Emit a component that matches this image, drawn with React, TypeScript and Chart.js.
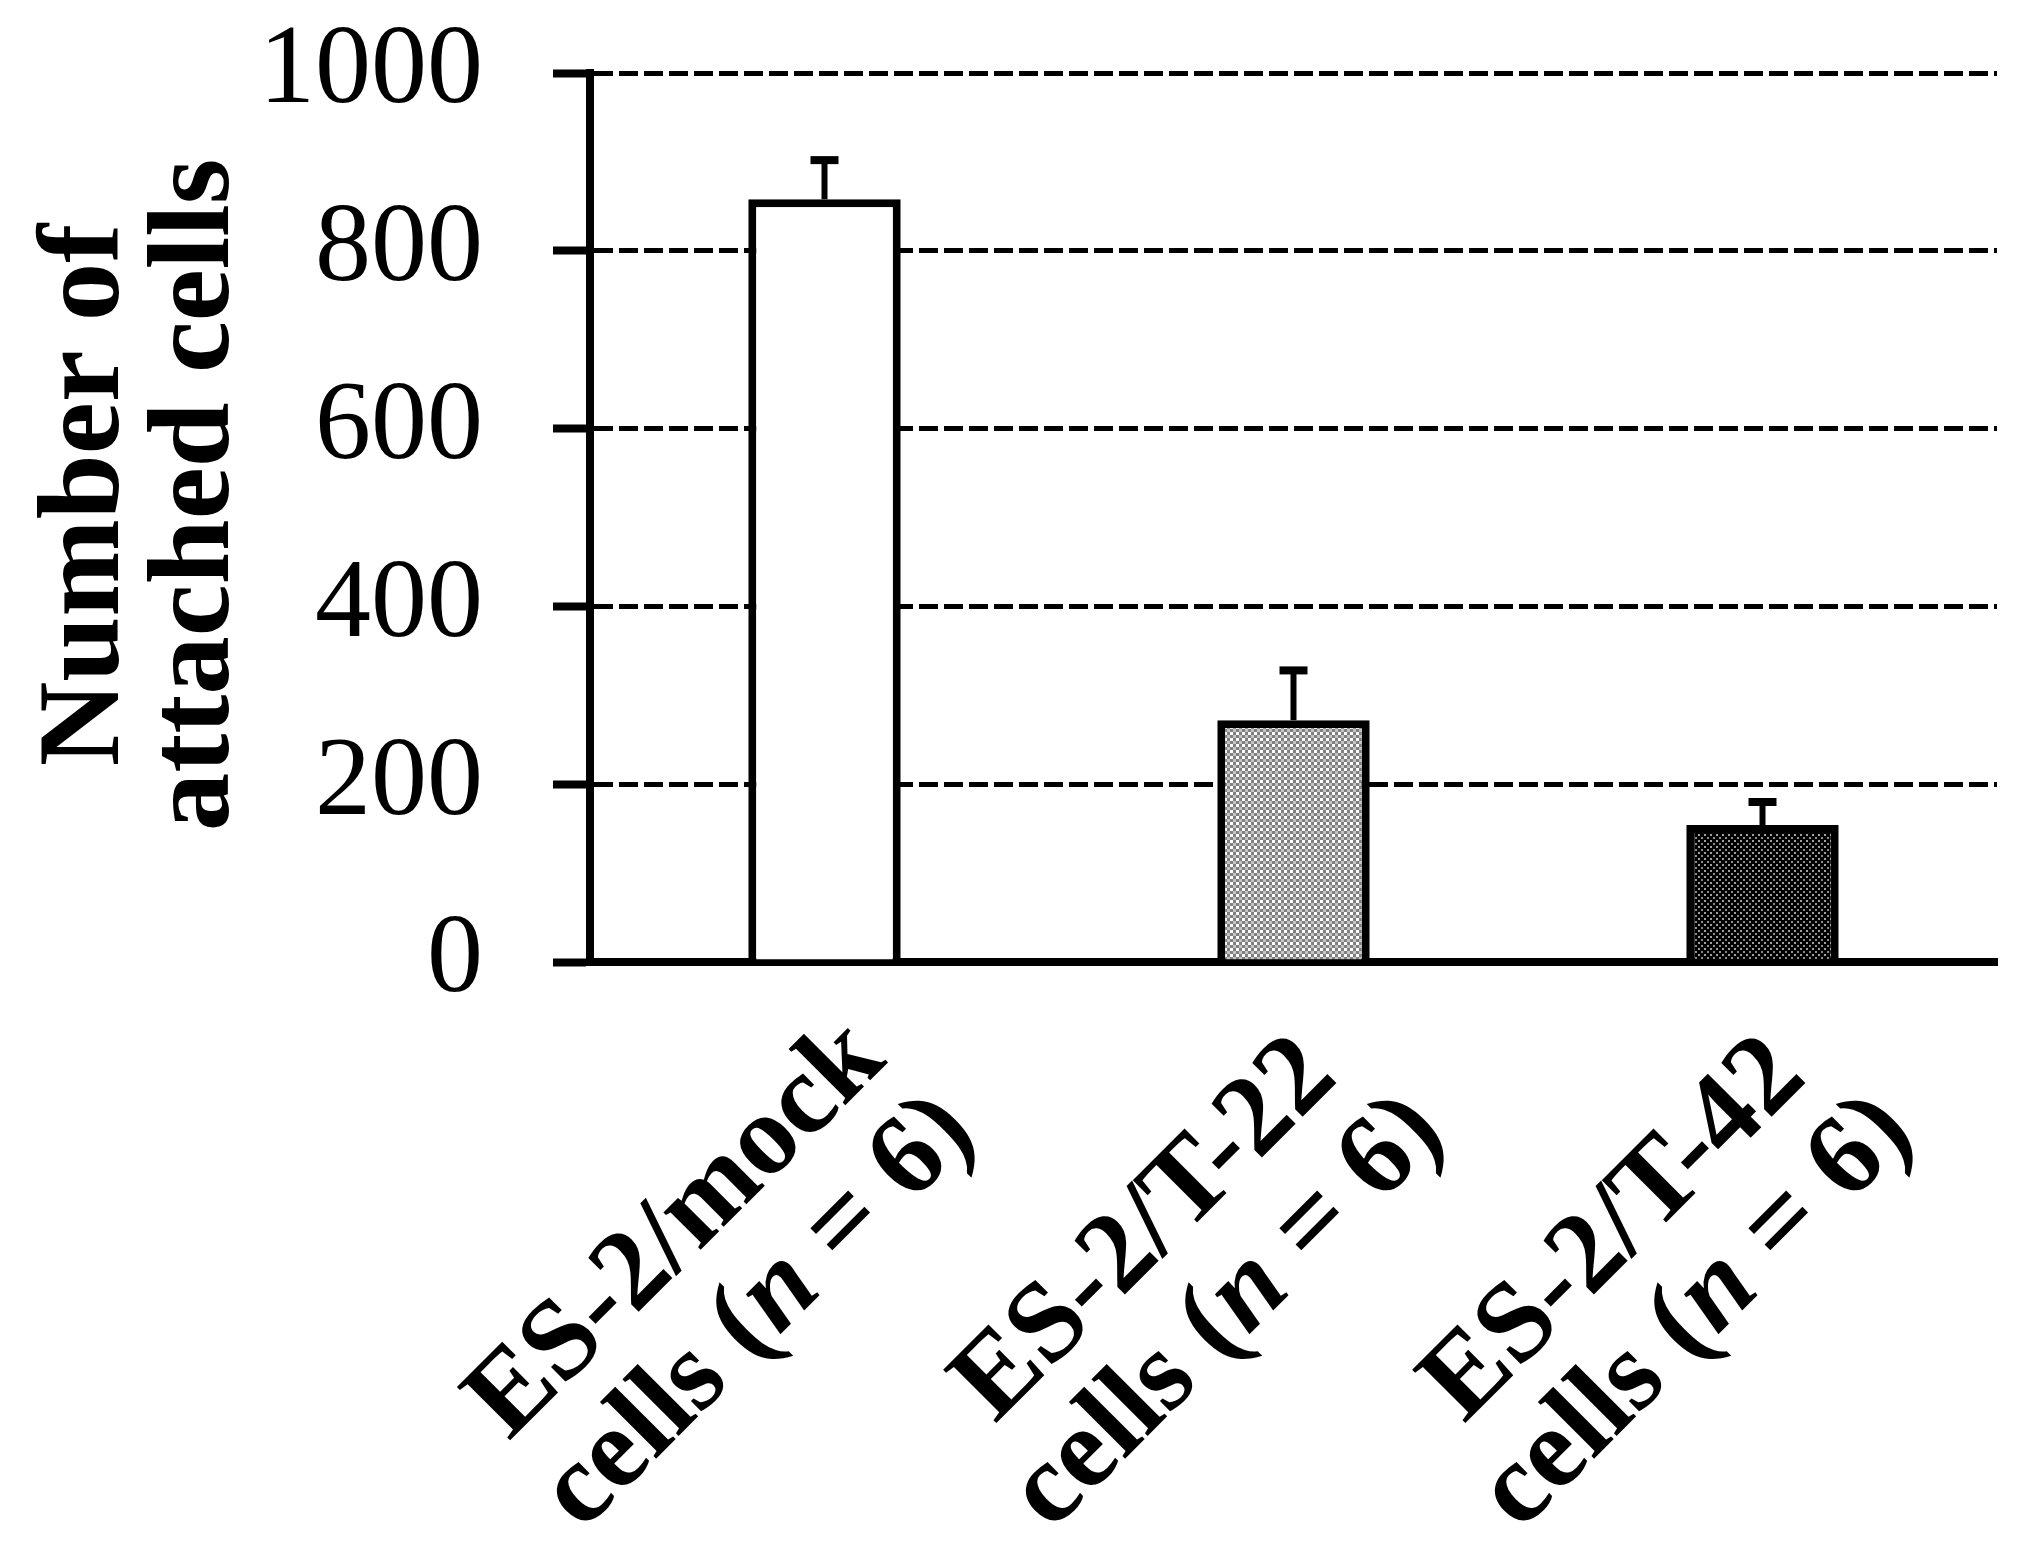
import React, { useEffect, useRef } from "react";
import { Chart, registerables } from "chart.js";

Chart.register(...registerables);

// ---- data ----
const labelLine1 = ["ES-2/mock", "ES-2/T-22", "ES-2/T-42"];
const sampleSizes = [6, 6, 6];
const means = [858, 272, 154];
const errors = [44, 56, 26];
const yTitleLines = ["Number of", "attached cells"];
const yMin = 0;
const yMax = 1000;
const yStep = 200;

const SERIF = "'Liberation Serif', 'Times New Roman', serif";

function makePattern(
  ctx: CanvasRenderingContext2D,
  size: number,
  bg: string,
  blocks: [number, number, number, string][]
) {
  const c = document.createElement("canvas");
  c.width = size;
  c.height = size;
  const g = c.getContext("2d")!;
  g.fillStyle = bg;
  g.fillRect(0, 0, size, size);
  blocks.forEach(([x, y, s, col]) => {
    g.fillStyle = col;
    g.fillRect(x, y, s, s);
  });
  return ctx.createPattern(c, "repeat")!;
}

const errorBarPlugin = {
  id: "errorBars",
  afterDatasetsDraw(chart: any) {
    const ctx = chart.ctx as CanvasRenderingContext2D;
    const ys = chart.scales.y;
    const meta = chart.getDatasetMeta(0);
    ctx.save();
    ctx.strokeStyle = "#000";
    meta.data.forEach((el: any, i: number) => {
      const x = el.x;
      const yTop = ys.getPixelForValue(means[i] + errors[i]);
      const yBar = ys.getPixelForValue(means[i]);
      ctx.lineWidth = 6;
      ctx.beginPath();
      ctx.moveTo(x, yBar);
      ctx.lineTo(x, yTop);
      ctx.stroke();
      ctx.lineWidth = 8;
      ctx.beginPath();
      ctx.moveTo(x - 14, yTop);
      ctx.lineTo(x + 14, yTop);
      ctx.stroke();
    });
    ctx.restore();
  },
};

const labelsPlugin = {
  id: "customLabels",
  afterDraw(chart: any) {
    const ctx = chart.ctx as CanvasRenderingContext2D;
    const xs = chart.scales.x;
    const axisY = chart.chartArea.bottom;
    const bold = `bold 115px ${SERIF}`;
    const boldItalic = `italic bold 115px ${SERIF}`;
    ctx.save();
    ctx.fillStyle = "#000";
    ctx.textBaseline = "alphabetic";
    ctx.textAlign = "left";
    labelLine1.forEach((l1, i) => {
      const cx = xs.getPixelForValue(i);
      const segs: [string, string][] = [
        ["cells (", bold],
        ["n", boldItalic],
        [` = ${sampleSizes[i]})`, bold],
      ];
      ctx.font = bold;
      const w1 = ctx.measureText(l1).width;
      let w2 = 0;
      segs.forEach(([t, f]) => {
        ctx.font = f;
        w2 += ctx.measureText(t).width;
      });
      const W = Math.max(w1, w2);
      const cu = -14 - W / 2;
      ctx.save();
      ctx.translate(cx, axisY);
      ctx.rotate(-Math.PI / 4);
      ctx.font = bold;
      ctx.fillText(l1, cu - w1 / 2, 116);
      let u = cu - w2 / 2;
      segs.forEach(([t, f]) => {
        ctx.font = f;
        ctx.fillText(t, u, 116 + 116);
        u += ctx.measureText(t).width;
      });
      ctx.restore();
    });

    // y axis title
    ctx.font = `bold 117px ${SERIF}`;
    ctx.textAlign = "center";
    const baselines = [118, 228];
    yTitleLines.forEach((t, i) => {
      ctx.save();
      ctx.translate(baselines[i], 495);
      ctx.rotate(-Math.PI / 2);
      ctx.fillText(t, 0, 0);
      ctx.restore();
    });
    ctx.restore();
  },
};

export default function App() {
  const ref = useRef<HTMLCanvasElement>(null);
  useEffect(() => {
    document.body.style.margin = "0";
    const canvas = ref.current!;
    const ctx = canvas.getContext("2d")!;
    const whiteFill = "#ffffff";
    const lightPattern = makePattern(ctx, 6, "#808080", [
      [0, 0, 3, "#ffffff"],
      [3, 3, 3, "#c4c4c4"],
    ]);
    const darkPattern = makePattern(ctx, 6, "#000000", [
      [0, 0, 2, "#a0a0a0"],
      [3, 3, 2, "#8a8a8a"],
    ]);
    const chart = new Chart(ctx, {
      type: "bar",
      data: {
        labels: labelLine1,
        datasets: [
          {
            data: means,
            backgroundColor: [whiteFill, lightPattern, darkPattern] as any,
            borderColor: "#000",
            borderWidth: 8,
            categoryPercentage: 1,
            barPercentage: 0.325,
          },
        ],
      },
      options: {
        responsive: false,
        animation: false,
        devicePixelRatio: 1,
        layout: { padding: { top: 73, right: 35, left: 0, bottom: 0 } },
        plugins: {
          legend: { display: false },
          tooltip: { enabled: false },
          title: { display: false },
        },
        scales: {
          x: {
            grid: { display: false, drawTicks: false },
            border: { display: true, color: "#000", width: 8 },
            ticks: { display: false },
            afterFit: (s: any) => {
              s.height = 602;
              s.paddingLeft = 0;
              s.paddingRight = 0;
            },
          },
          y: {
            min: yMin,
            max: yMax,
            ticks: {
              stepSize: yStep,
              color: "#000",
              font: { family: SERIF, size: 112 },
              padding: 70,
              callback: (v: any) => String(v),
            },
            grid: {
              color: "#000",
              lineWidth: 5,
              tickLength: 37,
              tickWidth: 8,
              tickColor: "#000",
              tickBorderDash: [],
            },
            border: { display: true, color: "#000", width: 8, dash: [19, 6] },
            afterFit: (s: any) => {
              s.width = 590;
              s.paddingTop = 0;
              s.paddingBottom = 0;
            },
          },
        },
      },
      plugins: [errorBarPlugin, labelsPlugin],
    });
    return () => chart.destroy();
  }, []);
  return (
    <canvas
      ref={ref}
      width={2032}
      height={1564}
      style={{ display: "block", width: "2032px", height: "1564px" }}
    />
  );
}
